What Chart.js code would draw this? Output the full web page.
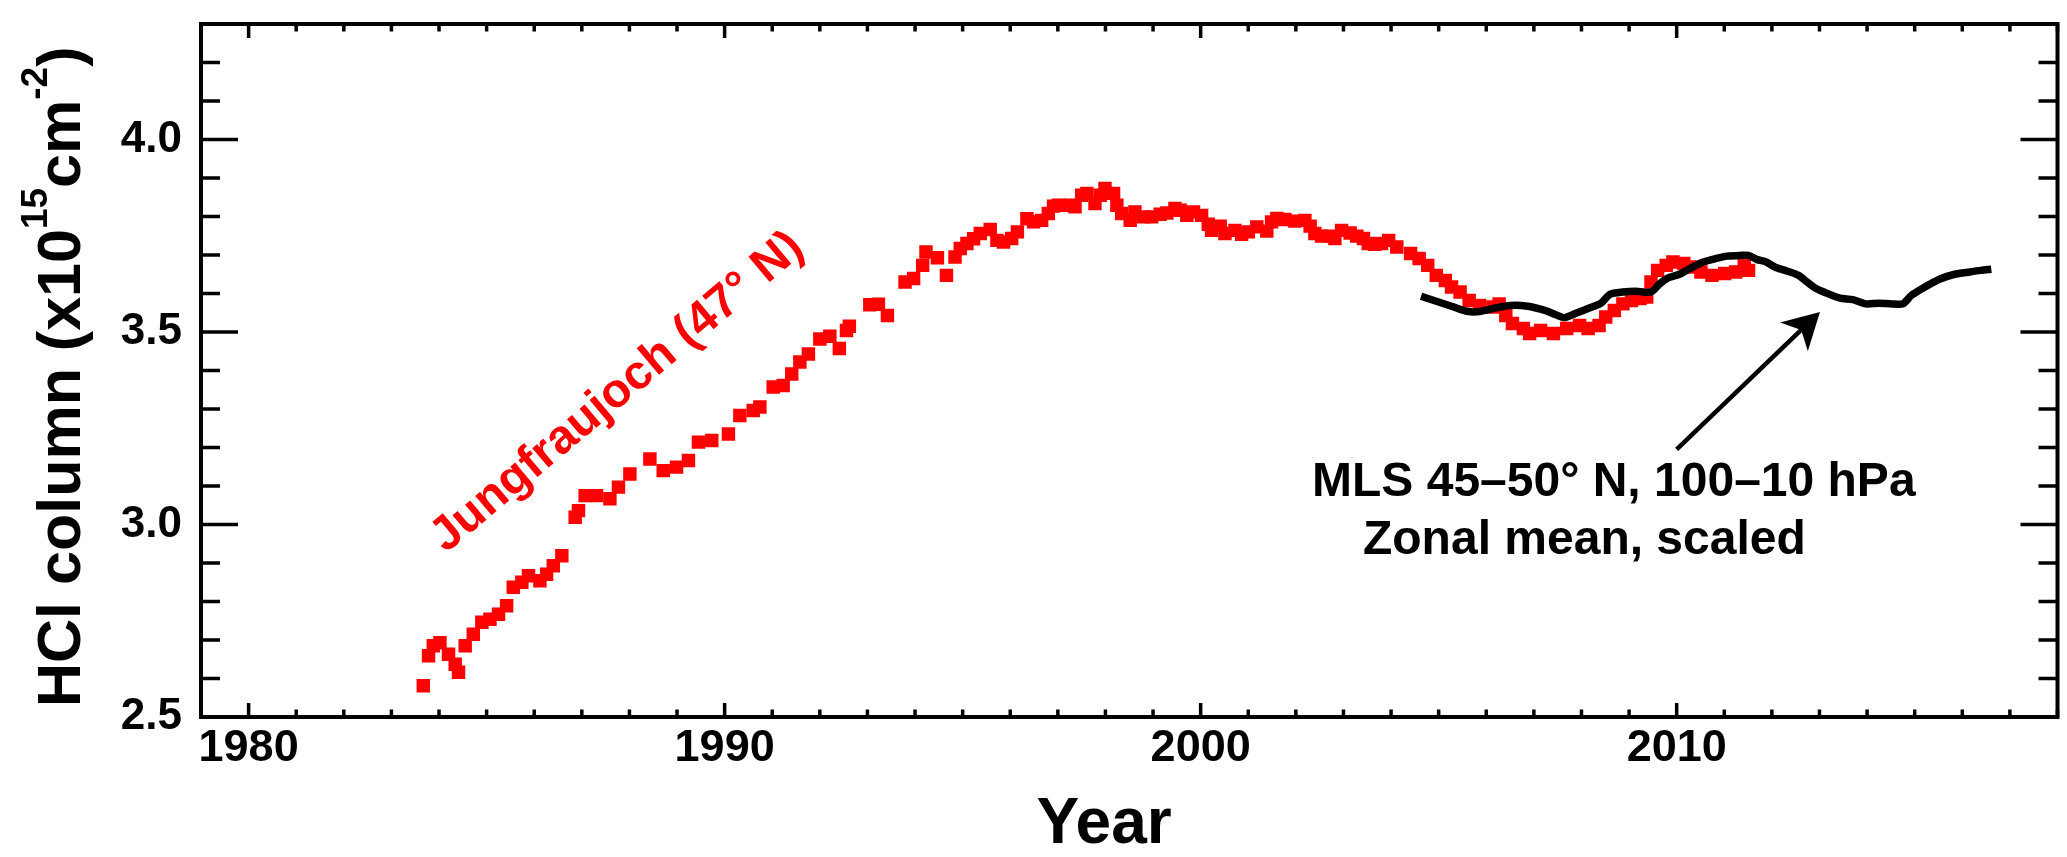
<!DOCTYPE html>
<html>
<head>
<meta charset="utf-8">
<script src="https://cdn.jsdelivr.net/npm/chart.js@4/dist/chart.umd.min.js"></script>
<style>
html,body{margin:0;padding:0;background:#ffffff;}
#wrap{width:2067px;height:857px;position:relative;}
canvas{display:block;}
</style>
</head>
<body>
<div id="wrap"><canvas id="c" width="2067" height="857"></canvas></div>
<script>
// ---- data ----
const jfjYears = [1983.67,1983.78,1983.88,1984.02,1984.20,1984.34,1984.41,1984.55,1984.72,1984.90,
  1985.07,1985.25,1985.42,1985.56,1985.74,1985.88,1986.12,1986.26,1986.40,1986.58,
  1986.86,1986.93,1987.07,1987.31,1987.59,1987.77,1988.01,1988.43,1988.71,1988.99,
  1989.24,1989.45,1989.73,1990.08,1990.32,1990.60,1990.74,1991.02,1991.23,1991.41,
  1991.58,1991.76,1992.00,1992.21,1992.41,1992.56,1992.62,1993.05,1993.23,1993.42,
  1993.79,1993.97,1994.16,1994.23,1994.47,1994.66,1994.84,1994.95,1995.09,1995.23,
  1995.37,1995.58,1995.72,1995.86,1996.03,1996.15,1996.35,1996.49,1996.66,1996.80,
  1996.91,1997.01,1997.26,1997.36,1997.50,1997.61,1997.78,1997.89,1997.99,1998.17,
  1998.24,1998.34,1998.52,1998.62,1998.80,1998.97,1999.15,1999.29,1999.46,1999.57,
  1999.71,1999.85,2000.02,2000.16,2000.23,2000.41,2000.51,2000.72,2000.86,2001.00,
  2001.18,2001.39,2001.49,2001.60,2001.77,2001.98,2002.19,2002.30,2002.40,2002.54,
  2002.72,2002.82,2002.96,2003.14,2003.28,2003.42,2003.52,2003.66,2003.80,2003.95,
  2004.12,2004.41,2004.59,2004.77,2004.95,2005.14,2005.27,2005.45,2005.64,2005.86,
  2006.14,2006.27,2006.41,2006.55,2006.78,2006.91,2007.14,2007.41,2007.69,2007.96,
  2008.14,2008.37,2008.51,2008.69,2008.87,2009.05,2009.23,2009.37,2009.46,2009.60,
  2009.78,2009.92,2010.15,2010.33,2010.51,2010.74,2011.01,2011.24,2011.42,2011.51];
const jfjValues = [2.581,2.659,2.685,2.693,2.663,2.637,2.616,2.685,2.715,2.746,
  2.754,2.767,2.789,2.837,2.850,2.867,2.854,2.871,2.893,2.919,
  3.019,3.036,3.075,3.075,3.067,3.097,3.131,3.170,3.140,3.149,
  3.166,3.214,3.218,3.235,3.283,3.296,3.305,3.357,3.361,3.391,
  3.422,3.443,3.482,3.489,3.457,3.504,3.515,3.571,3.572,3.543,
  3.630,3.639,3.673,3.708,3.693,3.647,3.695,3.717,3.730,3.742,
  3.756,3.766,3.738,3.734,3.743,3.760,3.794,3.786,3.790,3.808,
  3.827,3.829,3.829,3.825,3.855,3.860,3.834,3.855,3.873,3.860,
  3.829,3.808,3.790,3.812,3.799,3.799,3.806,3.809,3.821,3.816,
  3.803,3.812,3.803,3.780,3.764,3.775,3.756,3.764,3.754,3.760,
  3.773,3.762,3.786,3.795,3.792,3.788,3.790,3.775,3.756,3.749,
  3.749,3.743,3.764,3.757,3.749,3.743,3.730,3.728,3.730,3.738,
  3.721,3.704,3.691,3.673,3.647,3.634,3.617,3.604,3.582,3.569,
  3.565,3.573,3.543,3.522,3.509,3.496,3.504,3.496,3.509,3.517,
  3.509,3.517,3.539,3.556,3.573,3.582,3.587,3.591,3.630,3.660,
  3.673,3.682,3.678,3.669,3.656,3.647,3.652,3.656,3.673,3.660];

const mlsYears = [2004.63,2004.95,2005.27,2005.59,2005.86,2006.14,2006.50,2006.87,2007.23,2007.46,
  2007.64,2007.87,2008.14,2008.41,2008.60,2008.87,2009.14,2009.46,2009.65,2009.83,
  2010.06,2010.28,2010.56,2010.83,2011.06,2011.33,2011.51,2011.69,2011.88,2012.06,
  2012.33,2012.56,2012.74,2012.93,2013.15,2013.43,2013.70,2013.97,2014.25,2014.52,
  2014.75,2014.93,2015.16,2015.52,2015.84,2016.16,2016.39,2016.61];
const mlsValues = [3.593,3.580,3.567,3.554,3.553,3.561,3.569,3.567,3.556,3.545,
  3.537,3.548,3.561,3.575,3.598,3.604,3.606,3.604,3.626,3.641,
  3.650,3.665,3.682,3.691,3.697,3.699,3.699,3.688,3.682,3.669,
  3.658,3.647,3.630,3.613,3.601,3.588,3.584,3.573,3.575,3.573,
  3.573,3.595,3.613,3.637,3.650,3.656,3.660,3.663];

const xTickValues = [1980, 1990, 2000, 2010];
const yTickValues = [2.5, 3.0, 3.5, 4.0];
const xRange = [1979, 2018];
const yRange = [2.5, 4.3];

const jfjLabel = 'Jungfraujoch (47\u00B0 N)';
const mlsLabel1 = 'MLS 45\u201350\u00B0 N, 100\u201310 hPa';
const mlsLabel2 = 'Zonal mean, scaled';
const xTitle = 'Year';
const yTitleParts = [['HCl column (x10', false], ['15', true], ['cm', false], ['-2', true], [')', false]];

// ---- drawing ----
const FONT = "'Liberation Sans', Arial, Helvetica, sans-serif";

const framePlugin = {
  id: 'frame',
  afterDatasetsDraw(chart) {
    const {ctx, chartArea: a, scales} = chart;
    const x = scales.x, y = scales.y;
    ctx.save();
    ctx.strokeStyle = '#000';
    ctx.lineCap = 'butt';
    ctx.lineWidth = 3.5;
    ctx.beginPath();
    for (let yr = Math.ceil(x.min); yr <= x.max; yr += 1) {
      const px = x.getPixelForValue(yr);
      const len = xTickValues.includes(yr) ? 14 : 7.5;
      ctx.moveTo(px, a.bottom); ctx.lineTo(px, a.bottom - len);
      ctx.moveTo(px, a.top); ctx.lineTo(px, a.top + len);
    }
    for (let i = 0; ; i++) {
      const v = +(y.min + i * 0.1).toFixed(3);
      if (v > y.max + 1e-9) break;
      const py = y.getPixelForValue(v);
      const len = yTickValues.some(t => Math.abs(t - v) < 1e-6) ? 37 : 19;
      ctx.moveTo(a.left, py); ctx.lineTo(a.left + len, py);
      ctx.moveTo(a.right, py); ctx.lineTo(a.right - len, py);
    }
    ctx.stroke();
    ctx.lineWidth = 4;
    ctx.strokeRect(a.left, a.top, a.right - a.left, a.bottom - a.top);
    ctx.restore();
  },
  afterDraw(chart) {
    const {ctx, scales} = chart;
    const x = scales.x, y = scales.y;
    ctx.save();
    // y axis title with superscripts
    ctx.fillStyle = '#000';
    ctx.translate(80, 707);
    ctx.rotate(-Math.PI / 2);
    ctx.textAlign = 'left';
    ctx.textBaseline = 'alphabetic';
    let pos = 0;
    for (const [txt, sup] of yTitleParts) {
      ctx.font = 'bold ' + (sup ? 37 : 61) + 'px ' + FONT;
      ctx.fillText(txt, pos, sup ? -33 : 0);
      pos += ctx.measureText(txt).width;
    }
    ctx.restore();

    ctx.save();
    // x axis title
    ctx.fillStyle = '#000';
    ctx.font = 'bold 64px ' + FONT;
    ctx.textAlign = 'center';
    ctx.textBaseline = 'alphabetic';
    ctx.fillText(xTitle, 1104, 843);

    // MLS annotation
    ctx.font = 'bold 48px ' + FONT;
    ctx.textAlign = 'left';
    ctx.fillText(mlsLabel1, x.getPixelForValue(2002.34), y.getPixelForValue(3.075));
    ctx.fillText(mlsLabel2, x.getPixelForValue(2003.41), y.getPixelForValue(2.924));

    // arrow
    const tx = x.getPixelForValue(2010.0), ty = y.getPixelForValue(3.195);
    const hx = x.getPixelForValue(2013.01), hy = y.getPixelForValue(3.552);
    const ang = Math.atan2(hy - ty, hx - tx);
    const L = 36, W = 20, N = 26;
    const ux = Math.cos(ang), uy = Math.sin(ang);
    const nx = -uy, ny = ux;
    ctx.strokeStyle = '#000';
    ctx.lineWidth = 4.5;
    ctx.beginPath();
    ctx.moveTo(tx, ty);
    ctx.lineTo(hx - ux * N, hy - uy * N);
    ctx.stroke();
    ctx.beginPath();
    ctx.moveTo(hx, hy);
    ctx.lineTo(hx - ux * L + nx * W, hy - uy * L + ny * W);
    ctx.lineTo(hx - ux * N, hy - uy * N);
    ctx.lineTo(hx - ux * L - nx * W, hy - uy * L - ny * W);
    ctx.closePath();
    ctx.fillStyle = '#000';
    ctx.fill();

    // Jungfraujoch label
    ctx.translate(x.getPixelForValue(1987.75), y.getPixelForValue(3.343));
    ctx.rotate(-40 * Math.PI / 180);
    ctx.fillStyle = '#ff0000';
    ctx.font = 'bold 48px ' + FONT;
    ctx.textAlign = 'center';
    ctx.textBaseline = 'middle';
    ctx.fillText(jfjLabel, 0, 0);
    ctx.restore();
  }
};

const jfjData = jfjYears.map((v, i) => ({x: v, y: jfjValues[i]}));
const mlsData = mlsYears.map((v, i) => ({x: v, y: mlsValues[i]}));

new Chart(document.getElementById('c'), {
  type: 'scatter',
  data: {
    datasets: [
      {
        label: 'MLS',
        data: mlsData,
        showLine: true,
        borderColor: '#000000',
        backgroundColor: '#000000',
        borderWidth: 7.5,
        pointRadius: 0,
        tension: 0.25,
        borderJoinStyle: 'round',
        order: 0
      },
      {
        label: 'Jungfraujoch',
        data: jfjData,
        showLine: false,
        pointStyle: 'rect',
        pointRadius: 9.5,
        borderWidth: 0,
        backgroundColor: '#ff0000',
        borderColor: '#ff0000',
        order: 1
      }
    ]
  },
  options: {
    responsive: false,
    devicePixelRatio: 1,
    animation: false,
    layout: {padding: {top: 24, right: 9, left: 0, bottom: 0}},
    plugins: {legend: {display: false}, tooltip: {enabled: false}},
    scales: {
      x: {
        type: 'linear',
        position: 'bottom',
        min: xRange[0],
        max: xRange[1],
        grid: {display: false, drawTicks: false},
        border: {display: false},
        afterBuildTicks: s => { s.ticks = xTickValues.map(v => ({value: v})); },
        afterFit: s => { s.height = 140; s.paddingLeft = 0; s.paddingRight = 0; },
        ticks: {
          color: '#000',
          padding: 5,
          maxRotation: 0,
          autoSkip: false,
          font: {family: FONT, size: 45, weight: 'bold'},
          callback: v => String(v)
        }
      },
      y: {
        type: 'linear',
        position: 'left',
        min: yRange[0],
        max: yRange[1],
        grid: {display: false, drawTicks: false},
        border: {display: false},
        afterBuildTicks: s => { s.ticks = yTickValues.map(v => ({value: v})); },
        afterFit: s => { s.width = 201; s.paddingTop = 0; s.paddingBottom = 0; },
        ticks: {
          color: '#000',
          padding: 19,
          autoSkip: false,
          font: {family: FONT, size: 44, weight: 'bold'},
          callback: v => Number(v).toFixed(1)
        }
      }
    }
  },
  plugins: [framePlugin]
});
</script>
</body>
</html>
